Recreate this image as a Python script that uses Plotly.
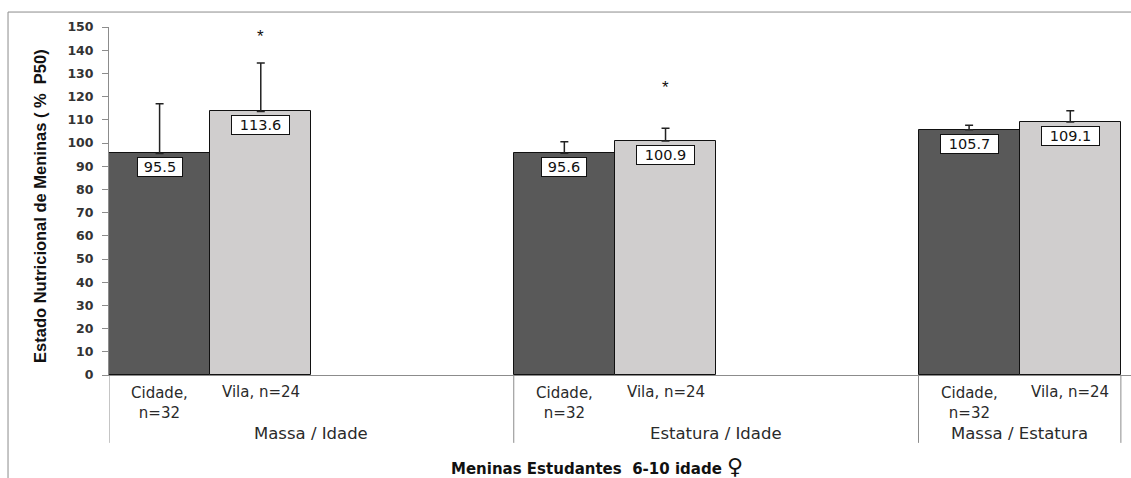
import plotly.graph_objects as go

# ---------------- data ----------------
groups = ["Massa / Idade", "Estatura / Idade", "Massa / Estatura"]
group_slots = [4, 4, 2]          # category slots occupied by each group on the axis
series_labels = ["Cidade,<br>n=32", "Vila, n=24"]
cidade_vals = [95.5, 95.6, 105.7]
vila_vals = [113.6, 100.9, 109.1]
cidade_err = [21.4, 4.9, 1.9]
vila_err = [20.9, 5.5, 4.8]
signif_marks = ["*", "*", ""]     # mark over the Vila bar
signif_y = [146, 124, None]
y_ticks = list(range(0, 151, 10))
x_title = "Meninas Estudantes \u00a06-10 idade"
x_title_symbol = "\u2640"
y_title = "Estado Nutricional de Meninas ( % \u00a0P50)"

FONT = "Liberation Sans, Arial, sans-serif"
WIDE = "DejaVu Sans, Verdana, sans-serif"
DARK = "#595959"
LIGHT = "#D0CECE"
AXIS = "#8c8c8c"

# group starts (slot index)
starts = []
s = 0
for n in group_slots:
    starts.append(s)
    s += n
total_slots = s

x_cid = [st + 0.5 for st in starts]
x_vil = [st + 1.5 for st in starts]

fig = go.Figure()
fig.add_trace(go.Bar(
    x=x_cid, y=cidade_vals, width=1.0, marker=dict(color=DARK, line=dict(color="#111", width=1)),
    error_y=dict(type="data", symmetric=False, array=cidade_err, arrayminus=[0] * 3,
                 color="#222", thickness=1.5, width=4),
    showlegend=False, hoverinfo="y"))
fig.add_trace(go.Bar(
    x=x_vil, y=vila_vals, width=1.0, marker=dict(color=LIGHT, line=dict(color="#111", width=1)),
    error_y=dict(type="data", symmetric=False, array=vila_err, arrayminus=[0] * 3,
                 color="#222", thickness=1.5, width=4),
    showlegend=False, hoverinfo="y"))

ann = []
# value labels
for xs, vals in ((x_cid, cidade_vals), (x_vil, vila_vals)):
    for x, v in zip(xs, vals):
        t = f"{v:.1f}"
        ann.append(dict(x=x, y=v, xref="x", yref="y", text=t, showarrow=False,
                        yanchor="top", yshift=-4, bgcolor="white", bordercolor="#111",
                        borderwidth=1, borderpad=0, width=13 * len(t) - 8, height=18,
                        font=dict(family=WIDE, size=14.5, color="#111")))
# significance marks
for x, m, y in zip(x_vil, signif_marks, signif_y):
    if m:
        ann.append(dict(x=x, y=y, xref="x", yref="y", text=m, showarrow=False,
                        font=dict(family=FONT, size=17, color="#111")))
# category labels
for st in starts:
    for k, lab in enumerate(series_labels):
        two = "<br>" in lab
        ann.append(dict(x=st + 0.5 + k, y=0, xref="x", yref="paper", text=lab,
                        showarrow=False, yanchor="middle", yshift=-27.5 if two else -17,
                        font=dict(family=WIDE, size=15, color="#2a2a2a")))
# group labels
for st, n, g in zip(starts, group_slots, groups):
    ann.append(dict(x=st + n / 2, y=0, xref="x", yref="paper", text=g, showarrow=False,
                    yanchor="middle", yshift=-58,
                    font=dict(family=WIDE, size=16.5, color="#2a2a2a")))
# axis titles
ann.append(dict(x=0.4775, y=0, xref="paper", yref="paper",
                text=f"<b>{x_title} <span style='font-size:22px'>{x_title_symbol}</span></b>",
                showarrow=False, yanchor="middle", yshift=-91,
                font=dict(family=WIDE, size=15, color="#111")))
ann.append(dict(x=-0.0675, y=0.486, xref="paper", yref="paper", text=f"<b>{y_title}</b>",
                showarrow=False, textangle=-90, xanchor="center", yanchor="middle",
                font=dict(family=FONT, size=16.5, color="#111")))

shapes = []
# group separators under the axis
for b in starts + [total_slots]:
    shapes.append(dict(type="line", xref="x", yref="paper", x0=b, x1=b, y0=0, y1=-0.195,
                       line=dict(color=AXIS, width=1)))
# outer chart border (top and left)
shapes.append(dict(type="line", xref="paper", yref="paper", x0=-0.0988, x1=1.0, y0=1.043, y1=1.043,
                   line=dict(color=AXIS, width=1)))
shapes.append(dict(type="line", xref="paper", yref="paper", x0=-0.0988, x1=-0.0988, y0=1.043, y1=-0.30,
                   line=dict(color=AXIS, width=1)))

fig.update_layout(
    width=1131, height=478,
    margin=dict(l=109, r=0, t=27, b=103),
    paper_bgcolor="white", plot_bgcolor="white",
    barmode="overlay", bargap=0,
    annotations=ann, shapes=shapes,
    font=dict(family=FONT),
    xaxis=dict(range=[0, total_slots + 0.1], showline=True, linecolor=AXIS, linewidth=1,
               showticklabels=False, ticks="", showgrid=False, zeroline=False, fixedrange=True),
    yaxis=dict(range=[0, 150], tickvals=y_ticks, showline=True, linecolor=AXIS, linewidth=1,
               ticks="outside", ticklen=6, tickcolor=AXIS, showgrid=False, zeroline=False,
               ticklabelstandoff=6,
               tickfont=dict(family=WIDE, size=12.5, color="#333", weight="bold")),
)

fig.write_html(
    "out.html",
    config={"displayModeBar": False},
    post_script="document.body.style.margin='0';document.body.style.overflow='hidden';",
)
